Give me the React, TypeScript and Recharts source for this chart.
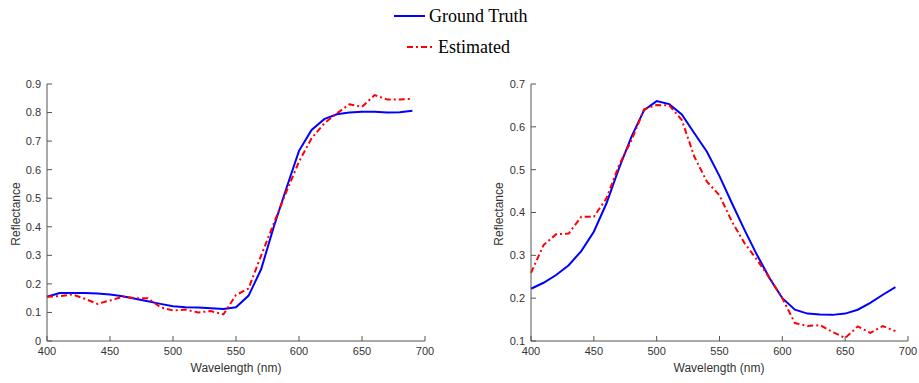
import React from "react";
import { LineChart, Line, XAxis, YAxis } from "recharts";

const wavelengths = [
  400, 410, 420, 430, 440, 450, 460, 470, 480, 490, 500, 510, 520, 530, 540,
  550, 560, 570, 580, 590, 600, 610, 620, 630, 640, 650, 660, 670, 680, 690,
];

const leftTruth = [
  0.155, 0.168, 0.168, 0.168, 0.166, 0.163, 0.157, 0.148, 0.139, 0.13, 0.122,
  0.118, 0.117, 0.115, 0.112, 0.118, 0.159, 0.252, 0.4, 0.535, 0.666, 0.739,
  0.777, 0.794, 0.8, 0.803, 0.803, 0.8, 0.801, 0.806,
];
const leftEstimated = [
  0.155, 0.157, 0.163, 0.148, 0.13, 0.142, 0.155, 0.15, 0.15, 0.118, 0.107,
  0.11, 0.1, 0.105, 0.093, 0.161, 0.184, 0.3, 0.412, 0.523, 0.628, 0.71,
  0.762, 0.797, 0.829, 0.82, 0.861, 0.846, 0.846, 0.848,
];

const rightTruth = [
  0.222, 0.236, 0.254, 0.277, 0.31, 0.355, 0.421, 0.503, 0.577, 0.639, 0.66,
  0.653, 0.629, 0.585, 0.542, 0.485, 0.421, 0.359, 0.3, 0.246, 0.2, 0.173,
  0.164, 0.162, 0.161, 0.164, 0.173, 0.189, 0.208, 0.226,
];
const rightEstimated = [
  0.259, 0.324, 0.349, 0.351, 0.39, 0.39, 0.433, 0.51, 0.569, 0.641, 0.651,
  0.65, 0.616, 0.53, 0.472, 0.44, 0.378, 0.328, 0.289, 0.246, 0.2, 0.142,
  0.135, 0.137, 0.121, 0.107, 0.134, 0.119, 0.135, 0.123,
];

const xTicks = [400, 450, 500, 550, 600, 650, 700];
const leftYTicks = [0, 0.1, 0.2, 0.3, 0.4, 0.5, 0.6, 0.7, 0.8, 0.9];
const rightYTicks = [0.1, 0.2, 0.3, 0.4, 0.5, 0.6, 0.7];

const AXIS = "#555";
const TEXT = "#333";
const TICK_FONT = "'Liberation Sans', Arial, sans-serif";
const SERIF = "'Liberation Serif', 'Times New Roman', serif";
const MARGIN = 6;

const fmt = (v: number) => String(Math.round(v * 10) / 10);

const XTick = (props: any) => {
  const { x, y, payload } = props;
  return (
    <g>
      <line x1={x} x2={x} y1={y - MARGIN} y2={y - MARGIN - 5} stroke={AXIS} />
      <text
        x={x}
        y={y}
        dy="0.71em"
        textAnchor="middle"
        fill={TEXT}
        fontSize={11}
        fontFamily={TICK_FONT}
      >
        {payload.value}
      </text>
    </g>
  );
};

const YTick = (props: any) => {
  const { x, y, payload } = props;
  return (
    <g>
      <line x1={x + MARGIN} x2={x + MARGIN + 5} y1={y} y2={y} stroke={AXIS} />
      <text
        x={x}
        y={y}
        dy="0.355em"
        textAnchor="end"
        fill={TEXT}
        fontSize={11}
        fontFamily={TICK_FONT}
      >
        {fmt(payload.value)}
      </text>
    </g>
  );
};

const Panel = ({
  truth,
  estimated,
  yDomain,
  yTicks,
  width,
  margin,
}: {
  truth: number[];
  estimated: number[];
  yDomain: [number, number];
  yTicks: number[];
  width: number;
  margin: { top: number; right: number; bottom: number; left: number };
}) => {
  const data = wavelengths.map((w, i) => ({
    w,
    truth: truth[i],
    estimated: estimated[i],
  }));
  return (
    <LineChart width={width} height={313} data={data} margin={margin}>
      <XAxis
        dataKey="w"
        type="number"
        domain={[400, 700]}
        ticks={xTicks}
        stroke={AXIS}
        tickLine={false}
        tickSize={0}
        tickMargin={MARGIN}
        tick={<XTick />}
        height={30}
        interval={0}
      />
      <YAxis
        type="number"
        domain={yDomain}
        ticks={yTicks}
        stroke={AXIS}
        tickLine={false}
        tickSize={0}
        tickMargin={MARGIN}
        tick={<YTick />}
        width={40}
        interval={0}
        allowDataOverflow
      />
      <Line
        dataKey="truth"
        stroke="#0000ff"
        strokeWidth={2}
        dot={false}
        type="linear"
        isAnimationActive={false}
      />
      <Line
        dataKey="estimated"
        stroke="#ff0000"
        strokeWidth={2}
        strokeDasharray="6 3 2 3"
        dot={false}
        type="linear"
        isAnimationActive={false}
      />
    </LineChart>
  );
};

export default function App() {
  return (
    <div
      style={{
        position: "absolute",
        left: 0,
        top: 0,
        width: 919,
        height: 383,
        background: "#fff",
      }}
    >
      <div style={{ position: "absolute", left: 0, top: 70 }}>
        <Panel
          truth={leftTruth}
          estimated={leftEstimated}
          yDomain={[0, 0.9]}
          yTicks={leftYTicks}
          width={460}
          margin={{ top: 14, right: 35, bottom: 12, left: 7 }}
        />
      </div>
      <div style={{ position: "absolute", left: 460, top: 70 }}>
        <Panel
          truth={rightTruth}
          estimated={rightEstimated}
          yDomain={[0.1, 0.7]}
          yTicks={rightYTicks}
          width={459}
          margin={{ top: 14, right: 11, bottom: 12, left: 31 }}
        />
      </div>
      <svg
        width={919}
        height={383}
        style={{ position: "absolute", left: 0, top: 0, pointerEvents: "none" }}
      >
        <line x1={394} x2={425} y1={16} y2={16} stroke="#0000ff" strokeWidth={2} />
        <text x={429} y={16} dy="0.35em" fontSize={18} fontFamily={SERIF} fill="#000">
          Ground Truth
        </text>
        <line
          x1={407}
          x2={434}
          y1={47}
          y2={47}
          stroke="#ff0000"
          strokeWidth={2}
          strokeDasharray="6 3 2 3"
        />
        <text x={438} y={47} dy="0.35em" fontSize={18} fontFamily={SERIF} fill="#000">
          Estimated
        </text>
        <text
          x={236}
          y={372}
          textAnchor="middle"
          fontSize={12}
          fontFamily={TICK_FONT}
          fill={TEXT}
        >
          Wavelength (nm)
        </text>
        <text
          x={719}
          y={372}
          textAnchor="middle"
          fontSize={12}
          fontFamily={TICK_FONT}
          fill={TEXT}
        >
          Wavelength (nm)
        </text>
        <text
          transform="translate(20,214) rotate(-90)"
          textAnchor="middle"
          fontSize={12}
          fontFamily={TICK_FONT}
          fill={TEXT}
        >
          Reflectance
        </text>
        <text
          transform="translate(503,214) rotate(-90)"
          textAnchor="middle"
          fontSize={12}
          fontFamily={TICK_FONT}
          fill={TEXT}
        >
          Reflectance
        </text>
      </svg>
    </div>
  );
}
